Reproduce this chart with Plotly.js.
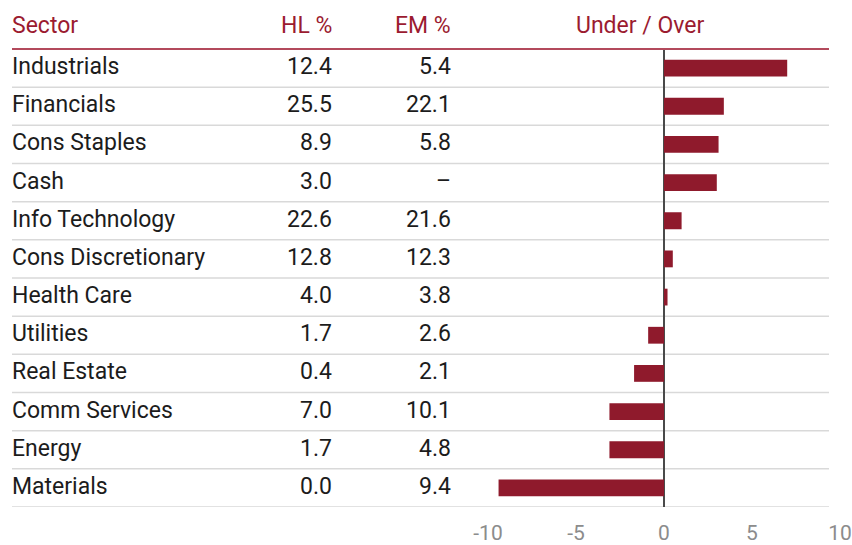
<!DOCTYPE html>
<html>
<head>
<meta charset="utf-8">
<script src="https://cdn.plot.ly/plotly-3.0.1.min.js"></script>
<style>html,body{margin:0;padding:0;background:#fff;}#chart{width:852px;height:545px;}</style>
</head>
<body>
<div id="chart"></div>
<script>
const sectors = ["Industrials","Financials","Cons Staples","Cash","Info Technology","Cons Discretionary","Health Care","Utilities","Real Estate","Comm Services","Energy","Materials"];
const hlPct = [12.4, 25.5, 8.9, 3.0, 22.6, 12.8, 4.0, 1.7, 0.4, 7.0, 1.7, 0.0];
const emPct = [5.4, 22.1, 5.8, null, 21.6, 12.3, 3.8, 2.6, 2.1, 10.1, 4.8, 9.4];
const underOver = [7.0, 3.4, 3.1, 3.0, 1.0, 0.5, 0.2, -0.9, -1.7, -3.1, -3.1, -9.4];
const headers = ["Sector", "HL %", "EM %", "Under / Over"];
const xTicks = [-10, -5, 0, 5, 10];

const W = 852, H = 545;
const FONT = "Roboto, 'DejaVu Sans', sans-serif";
const RED = "#8f1a2c", HEAD = "#9b1b30", TXT = "#1c1c1c";
const topPx = 49, botPx = 507.5;
const px = v => v / W;

const annotations = [];
const shapes = [];
const fs = 23;

sectors.forEach((s, i) => {
  annotations.push({xref:'paper', yref:'y', x: px(10), y: s, yshift: 1.5, text: s, showarrow:false, xanchor:'left', yanchor:'middle', font:{family:FONT, size:fs, color:TXT}});
  annotations.push({xref:'paper', yref:'y', x: px(334), y: s, yshift: 1.5, text: hlPct[i].toFixed(1), showarrow:false, xanchor:'right', yanchor:'middle', font:{family:FONT, size:fs, color:TXT}});
  annotations.push({xref:'paper', yref:'y', x: px(453), y: s, yshift: 1.5, text: emPct[i] === null ? '–' : emPct[i].toFixed(1), showarrow:false, xanchor:'right', yanchor:'middle', font:{family:FONT, size:fs, color:TXT}});
  shapes.push({type:'line', xref:'paper', yref:'y', x0: px(12), x1: px(829), y0: i + 0.5, y1: i + 0.5, line:{color:'#d9d9d9', width:1.5}, layer:'below'});
});

const plotH = botPx - topPx;
const hy = 1 + (topPx - 25) / plotH;
const hdrX = [10, 334, 453, 640];
const hdrAnchor = ['left','right','right','center'];
headers.forEach((h, k) => {
  annotations.push({xref:'paper', yref:'paper', x: px(hdrX[k]), y: hy, text: h, showarrow:false, xanchor: hdrAnchor[k], yanchor:'middle', font:{family:FONT, size:fs, color:HEAD}});
});
shapes.push({type:'line', xref:'paper', yref:'paper', x0: px(12), x1: px(829), y0: 1, y1: 1, line:{color:'#b34a5c', width:2}});

const unit = 17.6, zeroPx = 664;
const xMin = -10.5, xMax = 10;
const domain = [px(zeroPx + xMin * unit), px(zeroPx + xMax * unit)];

const trace = {
  type:'bar', orientation:'h', y: sectors, x: underOver,
  marker:{color:RED}, width:0.44, hoverinfo:'x+y'
};

const layout = {
  width:W, height:H, margin:{l:0, r:0, t:topPx, b:H - botPx, pad:0},
  paper_bgcolor:'#fff', plot_bgcolor:'rgba(0,0,0,0)',
  showlegend:false,
  xaxis:{domain: domain, range:[xMin, xMax], tickvals: xTicks, ticktext: xTicks.map(String), showgrid:false, zeroline:true, zerolinecolor:'#4a4a4a', zerolinewidth:2, showline:false, ticks:'', ticklabelstandoff: 11, ticklabeloverflow:'allow', tickfont:{family:FONT, size:21, color:'#8c8c8c'}, fixedrange:true},
  yaxis:{type:'category', categoryorder:'array', categoryarray: sectors, range:[11.5, -0.5], showticklabels:false, showgrid:false, zeroline:false, showline:false, ticks:'', fixedrange:true},
  annotations: annotations, shapes: shapes
};

Plotly.newPlot('chart', [trace], layout, {displayModeBar:false, staticPlot:true});
</script>
</body>
</html>
